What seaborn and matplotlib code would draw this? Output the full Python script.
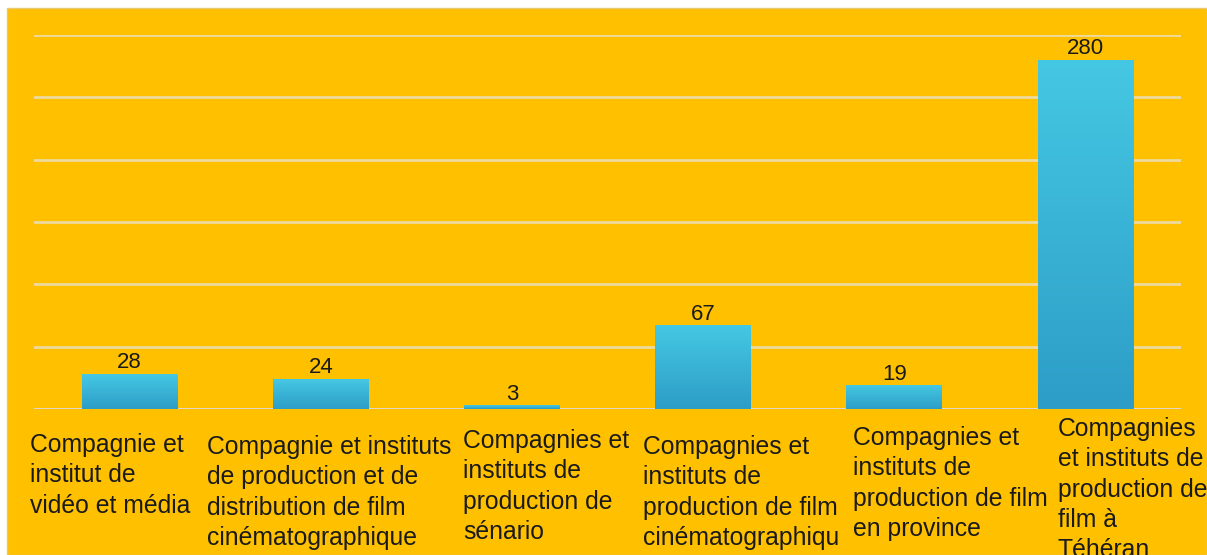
import numpy as np
import pandas as pd
import seaborn as sb
import matplotlib.pyplot as plt
from matplotlib.colors import LinearSegmentedColormap
from matplotlib.patches import Rectangle

categories = [
    "Compagnie et\ninstitut de\nvidéo et média",
    "Compagnie et instituts\nde production et de\ndistribution de film\ncinématographique",
    "Compagnies et\ninstituts de\nproduction de\nsénario",
    "Compagnies et\ninstituts de\nproduction de film\ncinématographiqu",
    "Compagnies et\ninstituts de\nproduction de film\nen province",
    "Compagnies\net instituts de\nproduction de\nfilm à\nTéhéran",
]
values = [28, 24, 3, 67, 19, 280]

df = pd.DataFrame({'cat': categories, 'value': values})

plt.rcParams['font.family'] = ['Liberation Sans', 'DejaVu Sans']

W, H = 1207, 555
fig = plt.figure(figsize=(12.07, 5.55), dpi=100, facecolor='white')
# orange panel
fig.patches.append(Rectangle((7 / W, 0), 1 - 7 / W, 1 - 8 / H, transform=fig.transFigure,
                             facecolor='#FFC000', edgecolor='#E8C870', lw=1, zorder=-5))

ax_bottom, ax_top = 409, 35
ax = fig.add_axes([34 / W, 1 - ax_bottom / H, (1181 - 34) / W, (ax_bottom - ax_top) / H])
ax.set_facecolor('none')
ax.patch.set_alpha(0)

sb.barplot(data=df, x='cat', y='value', width=0.5, color='#38B4D8', ax=ax, zorder=2)

ax.set_ylim(0, 300)
ax.set_xlim(-0.5, len(categories) - 0.5)
ax.set_yticks(np.arange(0, 301, 50))
ax.yaxis.grid(True, color='#EDDA9C', lw=2)
ax.set_axisbelow(True)
ax.axhline(0, color='#DFD9C8', lw=2, zorder=1)
for s in ax.spines.values():
    s.set_visible(False)
ax.tick_params(length=0, labelleft=False, labelbottom=False)
ax.set_xlabel('')
ax.set_ylabel('')

# gradient fill on bars
cmap = LinearSegmentedColormap.from_list('bar', ['#2D9DC7', '#45C8E3'])
grad = np.linspace(0, 1, 256).reshape(-1, 1)
for p in ax.patches:
    x0, y0 = p.get_x(), p.get_y()
    w, h = p.get_width(), p.get_height()
    im = ax.imshow(grad, cmap=cmap, origin='lower', aspect='auto',
                   extent=(x0, x0 + w, y0, y0 + h), zorder=2.5)
    im.set_clip_path(p)
ax.set_xlim(-0.5, len(categories) - 0.5)
ax.set_ylim(0, 300)

ax.bar_label(ax.containers[0], labels=[str(v) for v in values], padding=0.5,
             fontsize=16, color='#1a1a1a')

# category labels under the bars
px_per_cat = (1181 - 34) / len(categories)
label_left = [30, 207, 463, 643, 853, 1058]
label_top = [433, 435, 429, 435, 426, 417]
for i, txt in enumerate(categories):
    xd = (label_left[i] - 34) / px_per_cat - 0.5
    ya = (ax_bottom - label_top[i]) / (ax_bottom - ax_top)
    ax.text(xd, ya, txt, transform=ax.get_xaxis_transform(), ha='left', va='top',
            fontsize=17.8, color='#1a1a1a', linespacing=1.33, clip_on=False)

plt.savefig('out.png', dpi=100, facecolor='white')
